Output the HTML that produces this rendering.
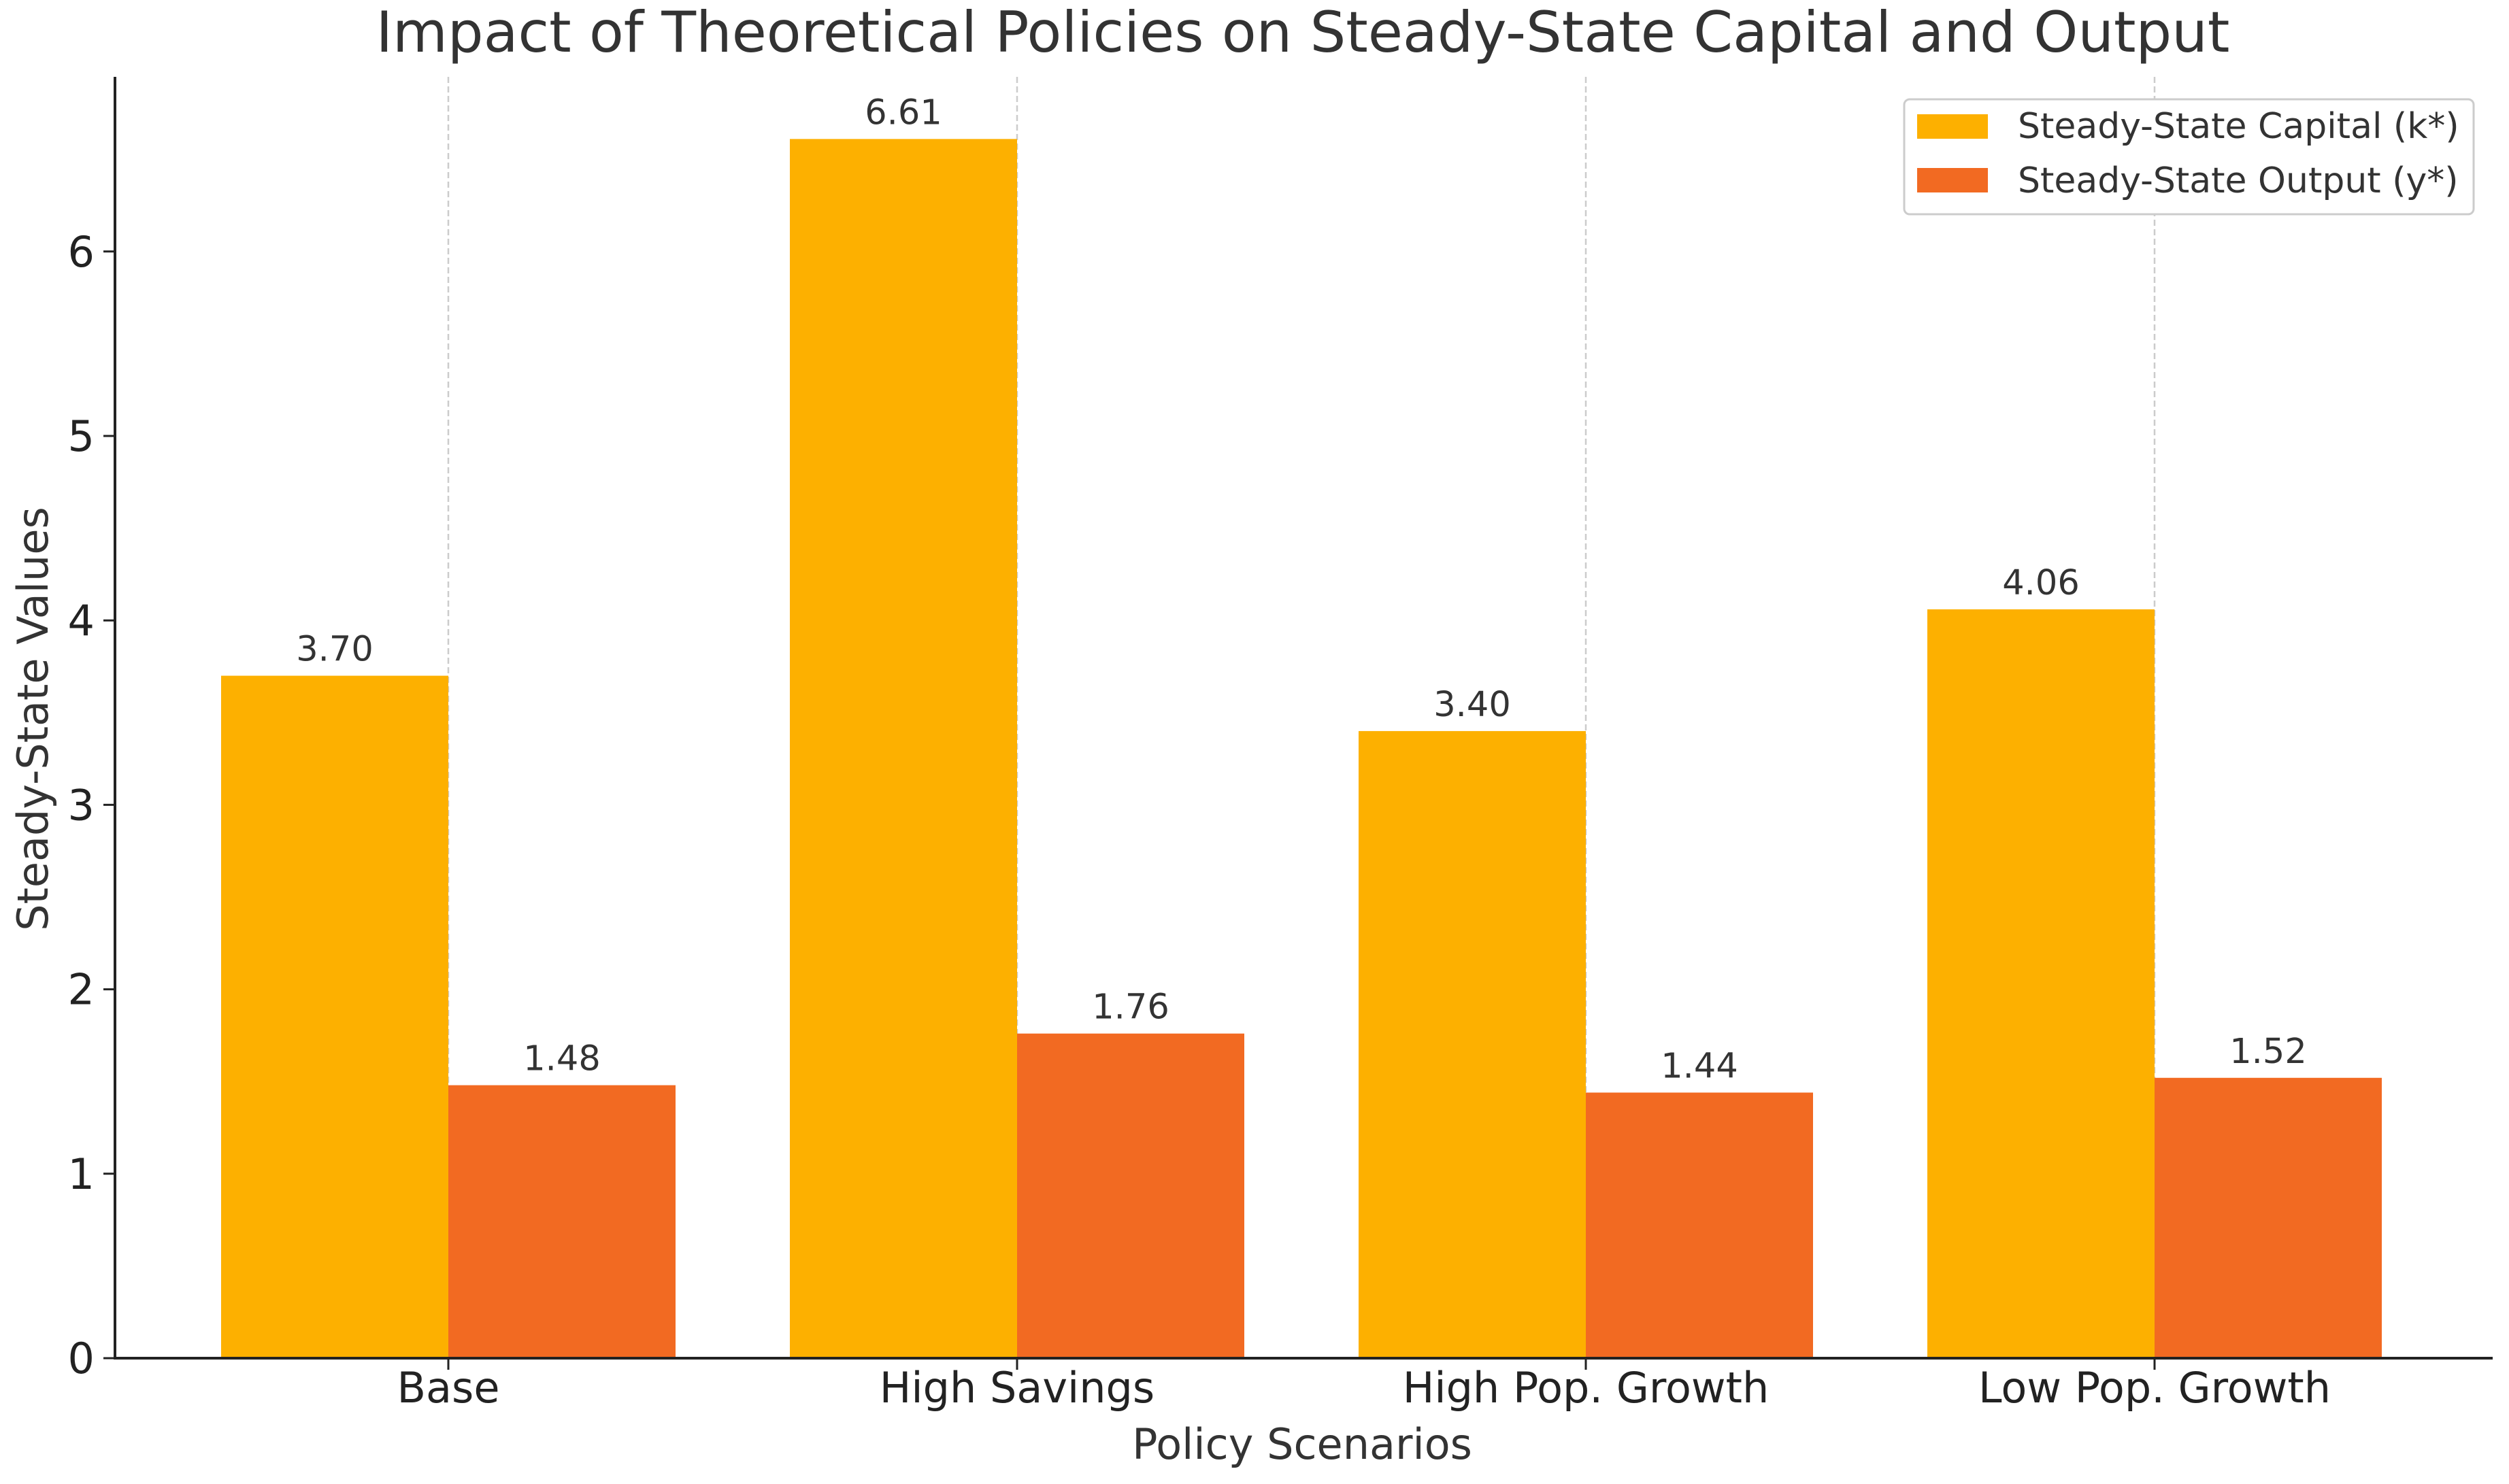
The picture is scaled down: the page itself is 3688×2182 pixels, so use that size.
<!DOCTYPE html>
<html><head><meta charset="utf-8"><style>
html,body{margin:0;padding:0;background:#fff;}
svg{display:block;font-family:"DejaVu Sans","Liberation Sans",sans-serif;}
</style></head><body>
<svg id="chart" width="3688" height="2182" xmlns="http://www.w3.org/2000/svg">
<rect width="3688" height="2182" fill="#fff"/>
<text x="1915" y="76" font-size="83" fill="#333" text-anchor="middle">Impact of Theoretical Policies on Steady-State Capital and Output</text>
<text x="1914" y="2145" font-size="62" fill="#333" text-anchor="middle">Policy Scenarios</text>
<text transform="translate(70,1057) rotate(-90)" font-size="62" fill="#333" text-anchor="middle">Steady-State Values</text>
<g id="grid"></g><g id="bars"></g><g id="axes"></g>
<g>
<rect x="2799" y="146" width="837" height="169" rx="8" fill="#fff" stroke="#ccc" stroke-width="3"/>
<rect x="2818" y="168" width="104" height="36" fill="#FDB000"/>
<text x="2966" y="203" font-size="52" fill="#333">Steady-State Capital (k*)</text>
<rect x="2818" y="247" width="104" height="36" fill="#F26A22"/>
<text x="2966" y="283" font-size="52" fill="#333">Steady-State Output (y*)</text>
</g>
</svg>
<script>
const categories=["Base","High Savings","High Pop. Growth","Low Pop. Growth"];
const capital=[3.70,6.61,3.40,4.06];
const output=[1.48,1.76,1.44,1.52];
const yTicks=[0,1,2,3,4,5,6];
const NS="http://www.w3.org/2000/svg";
const x0=169,x1=3664,y0=1997,unit=271.2,plotTop=113,first=659,step=836,bw=334;
const y=v=>y0-v*unit, cx=i=>first+i*step;
function mk(t,a,p,txt){const e=document.createElementNS(NS,t);for(const k in a)e.setAttribute(k,a[k]);if(txt!==undefined)e.textContent=txt;document.getElementById(p).appendChild(e);return e;}
categories.forEach((c,i)=>{
 const g=mk('line',{x1:cx(i),x2:cx(i),y1:plotTop,y2:y0,stroke:'#ccc','stroke-width':2.5,'stroke-dasharray':'9 5'},'grid');
 
 
 const b1=mk('rect',{x:cx(i)-bw,y:y(capital[i]),width:bw,height:capital[i]*unit,fill:'#FDB000'},'bars');
 
 
 const b2=mk('rect',{x:cx(i),y:y(output[i]),width:bw,height:output[i]*unit,fill:'#F26A22'},'bars');
 
 
 const l1=mk('text',{x:cx(i)-bw/2,y:y(capital[i])-22,'font-size':51,fill:'#333','text-anchor':'middle'},'bars',capital[i].toFixed(2));
 
 
 const l2=mk('text',{x:cx(i)+bw/2,y:y(output[i])-22,'font-size':51,fill:'#333','text-anchor':'middle'},'bars',output[i].toFixed(2));
 
 
 const t=mk('text',{x:cx(i),y:2062,'font-size':62,fill:'#222','text-anchor':'middle'},'axes',c);
 
 
 mk('line',{x1:cx(i),x2:cx(i),y1:y0,y2:y0+17,stroke:'#222','stroke-width':3},'axes');
});
yTicks.forEach(v=>{
 mk('line',{x1:x0-17,x2:x0,y1:y(v),y2:y(v),stroke:'#222','stroke-width':3},'axes');
 const t=mk('text',{x:x0-30,y:y(v)+22,'font-size':62,fill:'#222','text-anchor':'end'},'axes',v);
 
 
});
const ax=mk('line',{x1:x0,x2:x0,y1:plotTop,y2:y0+2,stroke:'#222','stroke-width':4},'axes');


const bx=mk('line',{x1:x0-2,x2:x1,y1:y0,y2:y0,stroke:'#222','stroke-width':4},'axes');


</script>
</body></html>
